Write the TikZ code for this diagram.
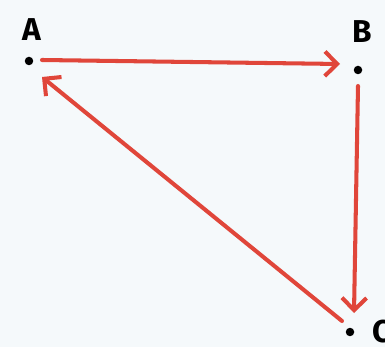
\documentclass[tikz,border=0pt]{standalone}
\usepackage{fontspec}
\setmainfont{Fira Sans}
\usetikzlibrary{arrows.meta}
\definecolor{bg}{HTML}{F5F9FB}
\definecolor{redline}{HTML}{E0463A}
\tikzset{
  pt/.style={circle,fill=black,inner sep=0pt,minimum size=0.17cm},
  lbl/.style={font=\fontsize{18}{18}\selectfont\bfseries},
  conn/.style={draw=redline,line width=2.3pt,line cap=round,-{Straight Barb[length=7pt,width=14pt,line width=2.3pt]}}
}
\begin{document}
\begin{tikzpicture}[x=0.02cm,y=-0.02cm]
\fill[bg] (0,0) rectangle (385,347);
\useasboundingbox (0,0) rectangle (385,347);
\node[pt] (A) at (29,61) {};
\node[pt] (B) at (358,70) {};
\node[pt] (C) at (350,332) {};
\node[lbl] (lA) at (32,30) {A};
\node[lbl] (lB) at (362,32) {B};
\node[lbl] (lC) at (382,332) {C};
\coordinate (a1) at (42,60);
\coordinate (b1) at (340,64);
\coordinate (b2) at (358,86);
\coordinate (c1) at (354,313);
\coordinate (c2) at (342,321);
\coordinate (a2) at (42,77);
\draw[conn] (a1) -- (b1);
\draw[conn] (b2) -- (c1);
\draw[conn] (c2) -- (a2);
\end{tikzpicture}
\end{document}
